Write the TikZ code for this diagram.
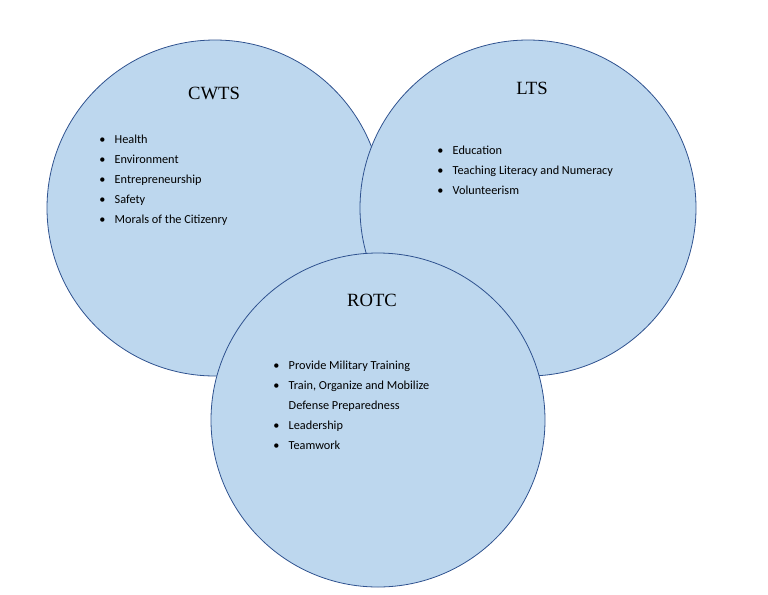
\documentclass[tikz,border=0pt]{standalone}
\usepackage{fontspec}
\setmainfont{Liberation Serif}
\newfontfamily\calib{Carlito}
\usetikzlibrary{positioning}
\definecolor{ringfill}{RGB}{189,215,238}
\definecolor{ringline}{RGB}{47,82,143}
\tikzset{
  ring/.style={draw=ringline,fill=ringfill,line width=0.6pt},
  ringtitle/.style={font=\fontsize{14}{16}\selectfont},
  points/.style={anchor=north west,inner sep=0pt,font=\calib\fontsize{9.2}{15}\selectfont}
}
\begin{document}
\begin{tikzpicture}[x=0.75pt,y=-0.75pt]
  \useasboundingbox (0,0) rectangle (768,594);
  %circles
  \draw[ring] (215,208) circle[radius=168];
  \draw[ring] (528,208) circle[radius=168];
  \draw[ring] (378,420) circle[radius=167];
  %CWTS
  \node[ringtitle] (cwts) at (214,93) {CWTS};
  \node[points] (cwtslist) at (99,129) {\begin{tabular}{@{}l@{\hspace{7pt}}l@{}}
    \textbullet & Health\\ \textbullet & Environment\\ \textbullet & Entrepreneurship\\
    \textbullet & Safety\\ \textbullet & Morals of the Citizenry\end{tabular}};
  %LTS
  \node[ringtitle] (lts) at (532,88) {LTS};
  \node[points] (ltslist) at (437,140) {\begin{tabular}{@{}l@{\hspace{7pt}}l@{}}
    \textbullet & Education\\ \textbullet & Teaching Literacy and Numeracy\\ \textbullet & Volunteerism\end{tabular}};
  %ROTC
  \node[ringtitle] (rotc) at (372,300) {ROTC};
  \node[points] (rotclist) at (273,355) {\begin{tabular}{@{}l@{\hspace{7pt}}l@{}}
    \textbullet & Provide Military Training\\ \textbullet & Train, Organize and Mobilize\\
     & Defense Preparedness\\ \textbullet & Leadership\\ \textbullet & Teamwork\end{tabular}};
\end{tikzpicture}
\end{document}
